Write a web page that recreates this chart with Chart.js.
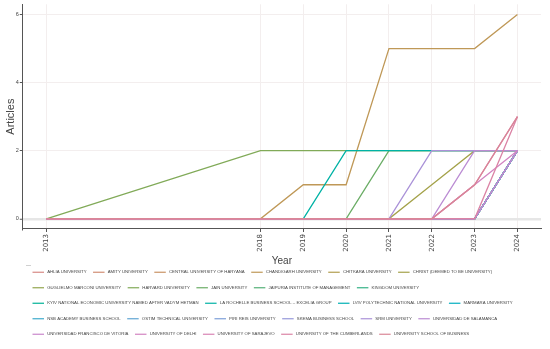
<!DOCTYPE html>
<html><head><meta charset="utf-8">
<script src="https://cdn.jsdelivr.net/npm/chart.js@4/dist/chart.umd.min.js"></script>
<style>html,body{margin:0;padding:0;background:#fff}#wrap{width:550px;height:349px}</style>
</head><body><div id="wrap"><canvas id="c" width="550" height="349"></canvas></div>
<script>
// ---- data ----
const years = [2013, 2018, 2019, 2020, 2021, 2022, 2023, 2024];
const yTicks = [0, 2, 4, 6];
const universities = [
  'AHLIA UNIVERSITY', 'AMITY UNIVERSITY', 'CENTRAL UNIVERSITY OF HARYANA', 'CHANDIGARH UNIVERSITY',
  'CHITKARA UNIVERSITY', 'CHRIST (DEEMED TO BE UNIVERSITY)', 'GUGLIELMO MARCONI UNIVERSITY', 'HARVARD UNIVERSITY',
  'JAIN UNIVERSITY', 'JAIPURIA INSTITUTE OF MANAGEMENT', 'KINGDOM UNIVERSITY',
  'KYIV NATIONAL ECONOMIC UNIVERSITY NAMED AFTER VADYM HETMAN', 'LA ROCHELLE BUSINESS SCHOOL – EXCELIA GROUP',
  'LVIV POLYTECHNIC NATIONAL UNIVERSITY', 'MARMARA UNIVERSITY', 'NSB ACADEMY BUSINESS SCHOOL',
  'OSTIM TECHNICAL UNIVERSITY', 'PIRI REIS UNIVERSITY', 'SKEMA BUSINESS SCHOOL', 'SRM UNIVERSITY',
  'UNIVERSIDAD DE SALAMANCA', 'UNIVERSIDAD FRANCISCO DE VITORIA', 'UNIVERSITY OF DELHI', 'UNIVERSITY OF SARAJEVO',
  'UNIVERSITY OF THE CUMBERLANDS', 'UNIVERSITY SCHOOL OF BUSINESS'
];
// cumulative articles per year (same order as years)
const ahlia       = [0, 0, 0, 0, 0, 0, 0, 2];
const amity       = [0, 0, 0, 0, 0, 0, 0, 2];
const centralHaryana = [0, 0, 0, 0, 0, 0, 0, 2];
const chandigarh  = [0, 0, 1, 1, 5, 5, 5, 6];
const chitkara    = [0, 0, 0, 0, 0, 0, 0, 2];
const christ      = [0, 0, 0, 0, 0, 1, 2, 2];
const guglielmo   = [0, 0, 0, 0, 0, 0, 0, 2];
const harvard     = [0, 2, 2, 2, 2, 2, 2, 2];
const jain        = [0, 0, 0, 0, 2, 2, 2, 2];
const jaipuria    = [0, 0, 0, 0, 0, 0, 0, 2];
const kingdom     = [0, 0, 0, 0, 0, 0, 0, 2];
const kyiv        = [0, 0, 0, 0, 0, 0, 0, 2];
const laRochelle  = [0, 0, 0, 2, 2, 2, 2, 2];
const lviv        = [0, 0, 0, 0, 0, 0, 0, 2];
const marmara     = [0, 0, 0, 0, 0, 0, 0, 2];
const nsb         = [0, 0, 0, 0, 0, 0, 0, 2];
const ostim       = [0, 0, 0, 0, 0, 0, 0, 2];
const piriReis    = [0, 0, 0, 0, 0, 0, 0, 2];
const skema       = [0, 0, 0, 0, 0, 0, 0, 2];
const srm         = [0, 0, 0, 0, 0, 2, 2, 2];
const salamanca   = [0, 0, 0, 0, 0, 0, 2, 2];
const vitoria     = [0, 0, 0, 0, 0, 0, 0, 2];
const delhi       = [0, 0, 0, 0, 0, 0, 1, 2];
const sarajevo    = [0, 0, 0, 0, 0, 0, 1, 3];
const cumberlands = [0, 0, 0, 0, 0, 0, 0, 3];
const schoolBusiness = [0, 0, 0, 0, 0, 0, 1, 3];
const seriesValues = [ahlia, amity, centralHaryana, chandigarh, chitkara, christ, guglielmo, harvard,
  jain, jaipuria, kingdom, kyiv, laRochelle, lviv, marmara, nsb, ostim, piriReis, skema, srm,
  salamanca, vitoria, delhi, sarajevo, cumberlands, schoolBusiness];

// ---- colours: evenly spaced HCL hues ----
function hcl(h, c, l) {
  const hr = h * Math.PI / 180;
  const u = c * Math.cos(hr), v = c * Math.sin(hr);
  const Y = l > 8 ? Math.pow((l + 16) / 116, 3) : l / 903.3;
  const un = 0.1978398, vn = 0.4683363;
  const up = u / (13 * l) + un, vp = v / (13 * l) + vn;
  const X = Y * 9 * up / (4 * vp), Z = Y * (12 - 3 * up - 20 * vp) / (4 * vp);
  const lin = [3.240479 * X - 1.537150 * Y - 0.498535 * Z,
               -0.969256 * X + 1.875992 * Y + 0.041556 * Z,
               0.055648 * X - 0.204043 * Y + 1.057311 * Z];
  return 'rgb(' + lin.map(x => {
    const g = x <= 0.0031308 ? 12.92 * x : 1.055 * Math.pow(x, 1 / 2.4) - 0.055;
    return Math.round(Math.max(0, Math.min(1, g)) * 255);
  }).join(',') + ')';
}
const n = universities.length;
const colors = universities.map((_, i) => hcl(15 + i * 360 / n, 55, 65));

const datasets = universities.map((name, i) => ({
  label: name,
  data: years.map((yr, j) => ({x: yr, y: seriesValues[i][j]})),
  borderColor: colors[i],
  backgroundColor: colors[i],
  borderWidth: 1.3,
  pointRadius: 0,
  tension: 0,
  fill: false,
  order: n - i
}));

const legendLines = {
  id: 'legendLines',
  afterLayout(chart) { chart.legend.left = 26; },
  afterDraw(chart) {
    const lg = chart.legend, ctx = chart.ctx;
    lg.legendItems.forEach((it, i) => {
      const hb = lg.legendHitBoxes[i];
      if (!hb) return;
      const y = hb.top + hb.height / 2;
      ctx.save();
      ctx.strokeStyle = it.lineColor;
      ctx.lineWidth = 1.2;
      ctx.beginPath();
      ctx.moveTo(hb.left + 0.5, y);
      ctx.lineTo(hb.left + 12, y);
      ctx.stroke();
      ctx.restore();
    });
  }
};

new Chart(document.getElementById('c'), {
  type: 'line',
  data: {datasets},
  plugins: [legendLines],
  options: {
    responsive: false,
    devicePixelRatio: 1,
    animation: false,
    layout: {padding: {top: 3, right: 9, bottom: 0, left: 0}},
    plugins: {
      tooltip: {enabled: false},
      legend: {
        position: 'bottom',
        align: 'start',
        title: {display: true, text: '—', position: 'start', color: '#888',
                font: {family: 'Liberation Sans', size: 5, lineHeight: 0}, padding: {top: 1.5, bottom: -1.5}},
        labels: {
          font: {family: 'Liberation Sans', size: 4.3},
          color: '#444',
          boxWidth: 13,
          boxHeight: 9.5,
          padding: 6,
          sort: (a, b) => a.datasetIndex - b.datasetIndex,
          generateLabels(chart) {
            const items = Chart.defaults.plugins.legend.labels.generateLabels(chart);
            return items.map(it => Object.assign({}, it, {
              lineColor: it.strokeStyle, fillStyle: 'rgba(0,0,0,0)', strokeStyle: 'rgba(0,0,0,0)', lineWidth: 0
            }));
          }
        }
      }
    },
    scales: {
      x: {
        type: 'linear',
        min: 2012.45, max: 2024.55,
        afterBuildTicks: s => { s.ticks = years.map(v => ({value: v})); },
        ticks: {
          callback: v => String(v),
          minRotation: 90, maxRotation: 90, autoSkip: false,
          font: {family: 'DejaVu Sans', size: 7}, color: '#444', padding: 2
        },
        grid: {color: '#f3eeee', lineWidth: 1, tickColor: '#555', tickLength: 3, tickWidth: 1},
        border: {display: true, color: '#555', width: 1},
        title: {display: true, text: 'Year', color: '#444',
                font: {family: 'Liberation Sans', size: 10}, padding: {top: 1.2, bottom: -5.5}}
      },
      y: {
        type: 'linear',
        min: -0.3, max: 6.3,
        afterBuildTicks: s => { s.ticks = yTicks.map(v => ({value: v})); },
        ticks: {font: {family: 'Liberation Sans', size: 5.5}, color: '#444', padding: 1},
        grid: {
          color: c => (c.tick && c.tick.value === 0) ? '#e6e6e6' : '#f3eeee',
          lineWidth: c => (c.tick && c.tick.value === 0) ? 2.5 : 1,
          tickColor: '#555', tickLength: 3, tickWidth: 1
        },
        border: {display: true, color: '#555', width: 1},
        title: {display: true, text: 'Articles', color: '#444',
                font: {family: 'Liberation Sans', size: 11}, padding: {top: 3.9, bottom: -2.4}}
      }
    }
  }
});
</script>
</body></html>
